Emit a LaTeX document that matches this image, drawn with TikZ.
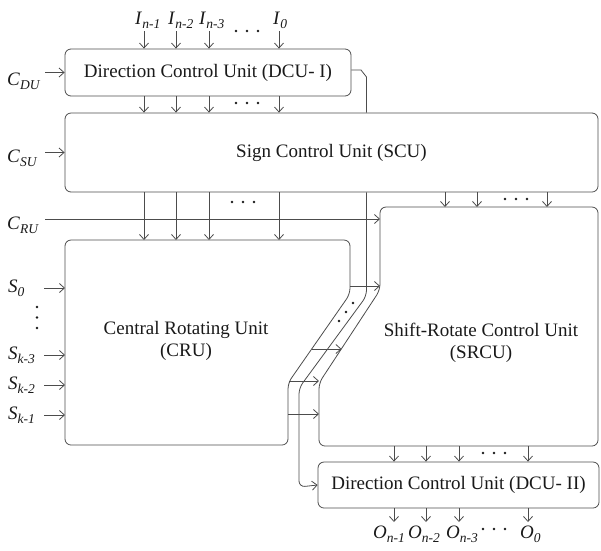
\documentclass[tikz,border=0pt]{standalone}
\usepackage{fontspec}
\setmainfont{Liberation Serif}
\usetikzlibrary{arrows.meta}
\newcommand\sublab[2]{\textit{#1}\raisebox{-4pt}{\fontsize{13.5}{13.5}\selectfont\itshape #2}}
\begin{document}
\begin{tikzpicture}[x=1pt,y=-1pt,
  font=\fontsize{19}{22}\selectfont,
  wire/.style={draw=black!70, line width=0.8pt},
  arr/.style={wire,-{Straight Barb[length=5pt,width=9pt]}},
  unit/.style={wire, rounded corners=6pt, inner sep=0pt, text=black!90},
  lab/.style={inner sep=0pt, text=black!90},
  dotf/.style={fill=black!90},
]
\useasboundingbox (0,0) rectangle (601,550);
% ---------- units ----------
\node[unit, minimum width=286pt, minimum height=47pt] (dcu1) at (208,72.5) {Direction Control Unit (DCU- I)};
\node[unit, minimum width=533pt, minimum height=79pt] (scu) at (331.5,152.5) {Sign Control Unit (SCU)};
\node[unit, minimum width=281pt, minimum height=46pt] (dcu2) at (458.5,485) {Direction Control Unit (DCU- II)};
\draw[unit] (65,240) coordinate (cruTL) -- (350,240) -- (350,294) -- (288,383) -- (288,445) -- (65,445) -- cycle;
\draw[unit] (380,207) coordinate (srTL) -- (598,207) -- (598,446) coordinate (srBR) -- (319,446) -- (319,383) -- (380,290) -- cycle;
\node[lab, align=center] (cru) at (186,341) {Central Rotating Unit\\(CRU)};
\node[lab, align=center] (srcu) at (481,343) {Shift-Rotate Control Unit\\(SRCU)};
% ---------- inputs I ----------
\foreach \x/\t/\lx [count=\i] in {144/{n-1}/135,176/{n-2}/168,209/{n-3}/199,279/0/273} {
  \node[lab, anchor=base west] (li\i) at (\lx,24) {\sublab{I}{\t}};
  \coordinate (ci\i) at (\x,31);
  \draw[arr] (ci\i) -- (ci\i |- dcu1.north);
  \draw[arr] (ci\i |- dcu1.south) -- (ci\i |- scu.north);
  \draw[arr] (ci\i |- scu.south) -- (ci\i |- cruTL);
}
% ---------- SCU -> SRCU ----------
\foreach \x [count=\i] in {445,477,547} {
  \coordinate (cs\i) at (\x,0);
  \draw[arr] (cs\i |- scu.south) -- (cs\i |- srTL);
}
% ---------- outputs O ----------
\foreach \x/\t/\lx [count=\i] in {394/{n-1}/373,426/{n-2}/408,459/{n-3}/446,528/0/520} {
  \node[lab, anchor=base west] (lo\i) at (\lx,538) {\sublab{O}{\t}};
  \coordinate (co\i) at (\x,522);
  \draw[arr] (co\i |- srBR) -- (co\i |- dcu2.north);
  \draw[arr] (co\i |- dcu2.south) -- (co\i);
}
% ---------- control inputs ----------
\coordinate (cx) at (45,0);
\node[lab, anchor=base west] (cdu) at (7,85) {\sublab{C}{DU}};
\node[lab, anchor=base west] (csu) at (7,162) {\sublab{C}{SU}};
\node[lab, anchor=base west] (cru-l) at (7,229) {\sublab{C}{RU}};
\draw[arr] (cx |- dcu1.west) -- (dcu1.west);
\draw[arr] (cx |- scu.west) -- (scu.west);
\coordinate (ru) at (45,219);
\draw[arr] (ru) -- (ru -| srTL);
% ---------- S inputs ----------
\coordinate (sx) at (44,0);
\foreach \y/\t [count=\i] in {288/0,355/{k-3},385/{k-2},415/{k-1}} {
  \node[lab, anchor=west] (s\i) at (8,\y) {\sublab{S}{\t}};
  \draw[arr] (s\i.east -| sx) -- (s\i.east -| cruTL);
}
% ---------- CRU -> SRCU ----------
\coordinate (a1) at (350,286); \coordinate (b1) at (380,286);
\coordinate (a2) at (312,349); \coordinate (b2) at (341.5,349);
\coordinate (a3) at (289,381); \coordinate (b3) at (319,381);
\coordinate (a4) at (288,414); \coordinate (b4) at (319,414);
\foreach \i in {1,...,4} { \draw[arr] (a\i) -- (b\i); }
% ---------- DCU-I -> DCU-II wire ----------
\coordinate (mw) at (366.5,0);
\draw[wire] ([yshift=2.5pt]dcu1.east) -- (361,70) -- (366.5,77) -- (mw |- scu.north);
\draw[arr, rounded corners=6pt] (mw |- scu.south) -- (366.5,296) -- (299,388) -- (299,487) -- (dcu2.west);
% ---------- dots ----------
\foreach \x/\y in {236/31,247/31,258/31, 236/103,247/103,258/103, 232/202,243/202,254/202,
  505/199,516/199,527/199, 483/453,494/453,505/453, 483/529,494/529,505/529,
  37/307,37/317.5,37/328, 353/303,346/312,339/321} {
  \fill[dotf] (\x,\y) circle (1.3);
}
\end{tikzpicture}
\end{document}
